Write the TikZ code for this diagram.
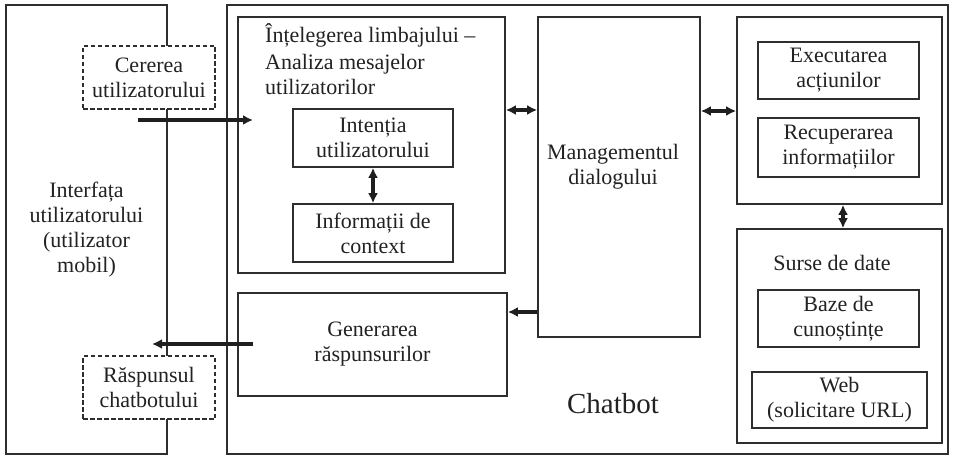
\documentclass[tikz,border=0pt]{standalone}
\usepackage{fontspec}
\setmainfont{Liberation Serif}
\usetikzlibrary{arrows.meta}
\definecolor{linec}{HTML}{2E2E2E}
\definecolor{txtc}{HTML}{222222}
\newcommand\dgfont{\fontsize{22}{25}\selectfont}
\begin{document}
\begin{tikzpicture}[x=1pt,y=-1pt,
  box/.style={draw=linec, line width=1.7pt, fill=white, inner sep=0pt,
    font=\dgfont, text=txtc, align=center},
  dbox/.style={box, dash pattern=on 4.5pt off 2.5pt, line width=2pt},
  lbl/.style={font=\dgfont, text=txtc, inner sep=0pt},
  tip/.tip={Latex[length=10pt,width=10pt]},
  arr/.style={draw=black!88, line width=3.2pt, -tip},
  dbl/.style={draw=black!88, line width=3.2pt, tip-tip}]
\useasboundingbox (0,0) rectangle (953,457);
% outer frames
\node[box, minimum width=161pt, minimum height=449pt] (iface) at (86.5,229.5)
  {Interfața\\utilizatorului\\(utilizator\\mobil)};
\node[box, minimum width=721pt, minimum height=449pt] (chatbot) at (587.5,229.5) {};
\node[lbl, font=\fontsize{29}{32}\selectfont, anchor=base] (chatlbl) at (613,413) {Chatbot};
% dashed boxes
\node[dbox, minimum width=132pt, minimum height=63pt] (cerere) at (149,77.5) {Cererea\\utilizatorului};
\node[dbox, minimum width=132pt, minimum height=63pt] (raspuns) at (149,387.5) {Răspunsul\\chatbotului};
% NLU
\node[box, minimum width=267pt, minimum height=256pt] (nlu) at (371.5,145) {};
\node[lbl, anchor=base west] (nlutitle) at (265,43) {Înțelegerea limbajului –};
\node[lbl, anchor=base west] (nlutitle2) at (265,70) {Analiza mesajelor};
\node[lbl, anchor=base west] (nlutitle3) at (265,95) {utilizatorilor};
\node[box, minimum width=160pt, minimum height=58pt] (intent) at (373,138) {Intenția\\utilizatorului};
\node[box, minimum width=160pt, minimum height=58pt] (context) at (373,233) {Informații de\\context};
% dialogue management
\node[box, minimum width=162pt, minimum height=320pt] (dm) at (619,177) {};
\node[lbl, align=center] (dmtext) at (613,167) {Managementul\\dialogului};
% generation
\node[box, minimum width=269pt, minimum height=103pt] (gen) at (372.5,344.5) {Generarea\\răspunsurilor};
% actions
\node[box, minimum width=205pt, minimum height=187pt] (act) at (839.5,110.5) {};
\node[box, minimum width=161pt, minimum height=57pt] (exec) at (838.5,70.5) {Executarea\\acțiunilor};
\node[box, minimum width=161pt, minimum height=59pt] (recup) at (838.5,147.5) {Recuperarea\\informațiilor};
% data sources
\node[box, minimum width=205pt, minimum height=214pt] (surse) at (839.5,336) {};
\node[lbl, anchor=base] (sursetitle) at (832,270) {Surse de date};
\node[box, minimum width=161pt, minimum height=57pt] (baze) at (838.5,318.5) {Baze de\\cunoștințe};
\node[box, minimum width=175pt, minimum height=56pt] (web) at (839.5,400) {Web\\(solicitare URL)};
% connectors
\coordinate (inStart) at (138,120);
\coordinate (inEnd) at (253,120);
\draw[arr] (inStart) -- (inEnd);
\coordinate (outStart) at (253,344);
\coordinate (outEnd) at (152,344);
\draw[arr] (outStart) -- (outEnd);
\draw[dbl] (intent.south) -- (context.north);
\draw[dbl] (nlu.east |- 0,110) -- (dm.west |- 0,110);
\draw[dbl] (dm.east |- 0,111) -- (act.west |- 0,111);
\draw[dbl] (act.south -| 843,0) -- (surse.north -| 843,0);
\draw[arr] (dm.west |- 0,312) -- (gen.east |- 0,312);
\end{tikzpicture}
\end{document}
